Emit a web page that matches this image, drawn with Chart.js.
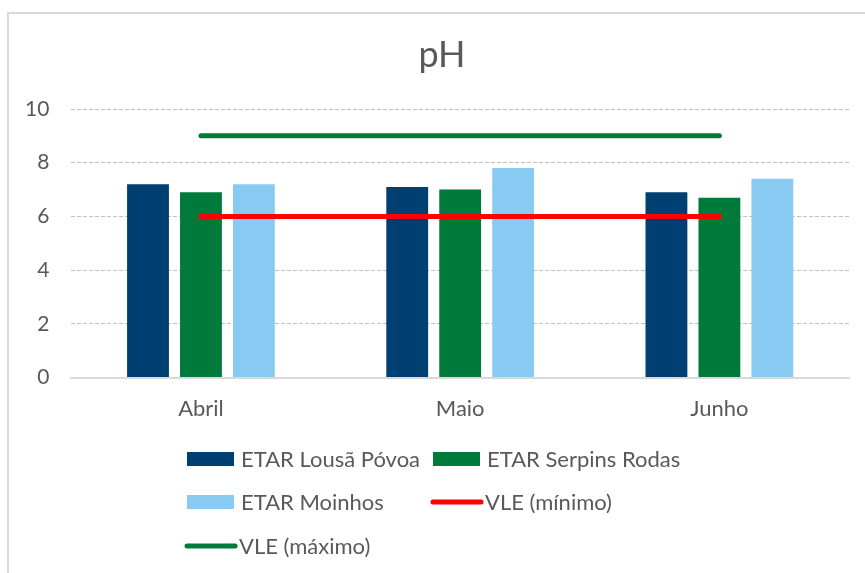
<!DOCTYPE html>
<html>
<head>
<meta charset="utf-8">
<script src="https://cdn.jsdelivr.net/npm/chart.js@4/dist/chart.umd.min.js"></script>
<style>
  html, body { margin: 0; padding: 0; background: #fff; }
  #wrap { width: 865px; height: 573px; position: relative; }
</style>
</head>
<body>
<div id="wrap"><canvas id="chart-canvas" width="865" height="573"></canvas></div>
<script>
//------------------------ DATA ----------------------------

const categories = ["Abril", "Maio", "Junho"];
const lousaPovoa = [7.2, 7.1, 6.9];
const serpinsRodas = [6.9, 7.0, 6.7];
const moinhos = [7.2, 7.8, 7.4];
const vleMinimo = [6, 6, 6];
const vleMaximo = [9, 9, 9];
const yMin = 0;
const yMax = 10;
const yStep = 2;

const FONT = "Lato, 'Open Sans', sans-serif";
const TEXT = "#595959";

//------------------------ PLUGINS ----------------------------

// Grey frame round the chart (cut off on the right and bottom, like the screenshot)
// plus the title, which sits a bit left of the plot centre
const framePlugin = {
  id: "frame",
  beforeDraw(chart) {
    const ctx = chart.ctx;
    ctx.save();
    ctx.fillStyle = "#fff";
    ctx.fillRect(0, 0, chart.width, chart.height);
    ctx.strokeStyle = "#d9d9d9";
    ctx.lineWidth = 2;
    ctx.strokeRect(8, 13, chart.width + 20, chart.height + 20);

    ctx.fillStyle = TEXT;
    ctx.font = "36px " + FONT;
    ctx.textAlign = "center";
    ctx.textBaseline = "alphabetic";
    ctx.fillText("pH", 442, 67);
    ctx.restore();
  },
};

// Two-column legend drawn below the axis
const gridLegend = {
  id: "gridLegend",
  afterDraw(chart) {
    const ctx = chart.ctx;
    const items = chart.data.datasets;
    const colX = [187, 433];
    const rowY = [459, 502, 546];
    const layout = [
      [0, 0, 0], // dataset index, col, row
      [1, 1, 0],
      [2, 0, 1],
      [3, 1, 1],
      [4, 0, 2],
    ];
    ctx.save();
    ctx.font = "22px " + FONT;
    ctx.textBaseline = "middle";
    ctx.fillStyle = TEXT;
    layout.forEach(([i, c, r]) => {
      const ds = items[i];
      const x = colX[c];
      const y = rowY[r];
      let textX;
      if (ds.type === "line") {
        ctx.strokeStyle = ds.borderColor;
        ctx.lineWidth = 5;
        ctx.lineCap = "round";
        ctx.beginPath();
        ctx.moveTo(x, y);
        ctx.lineTo(x + 48, y);
        ctx.stroke();
        textX = x + 52;
      } else {
        ctx.fillStyle = ds.backgroundColor;
        ctx.fillRect(x, y - 7, 47, 14);
        textX = x + 54;
      }
      ctx.fillStyle = TEXT;
      ctx.fillText(ds.label, textX, y + 1);
    });
    ctx.restore();
  },
};

//------------------------ CHART ----------------------------

const ctx = document.getElementById("chart-canvas").getContext("2d");
const barOpts = {
  barPercentage: 0.79,
  categoryPercentage: 0.613,
  order: 1,
};
const lineOpts = {
  type: "line",
  pointRadius: 0,
  borderWidth: 5,
  borderCapStyle: "round",
  fill: false,
  order: 0,
};

new Chart(ctx, {
  type: "bar",
  data: {
    labels: categories,
    datasets: [
      { label: "ETAR Lousã Póvoa", data: lousaPovoa, backgroundColor: "#003f72", ...barOpts },
      { label: "ETAR Serpins Rodas", data: serpinsRodas, backgroundColor: "#007a3a", ...barOpts },
      { label: "ETAR Moinhos", data: moinhos, backgroundColor: "#89caf2", ...barOpts },
      { label: "VLE (mínimo)", data: vleMinimo, borderColor: "#ff0000", backgroundColor: "#ff0000", ...lineOpts },
      { label: "VLE (máximo)", data: vleMaximo, borderColor: "#007a3a", backgroundColor: "#007a3a", ...lineOpts },
    ],
  },
  options: {
    responsive: false,
    animation: false,
    layout: {
      padding: { left: 3, right: 16, top: 109, bottom: 141 },
    },
    plugins: {
      legend: { display: false },
      tooltip: { enabled: false },
      title: { display: false },
    },
    scales: {
      x: {
        grid: { display: false },
        border: { display: true, color: "#d9d9d9", width: 2 },
        ticks: { color: TEXT, font: { family: FONT, size: 22 }, padding: 10 },
      },
      y: {
        min: yMin,
        max: yMax,
        border: { display: false, dash: [4, 2] },
        grid: {
          drawTicks: false,
          color: (c) => (c.tick && c.tick.value === 0 ? "rgba(0,0,0,0)" : "#bfbfbf"),
          lineWidth: 1,
        },
        ticks: { stepSize: yStep, color: TEXT, font: { family: FONT, size: 21 }, padding: 22 },
      },
    },
  },
  plugins: [framePlugin, gridLegend],
});
</script>
</body>
</html>
